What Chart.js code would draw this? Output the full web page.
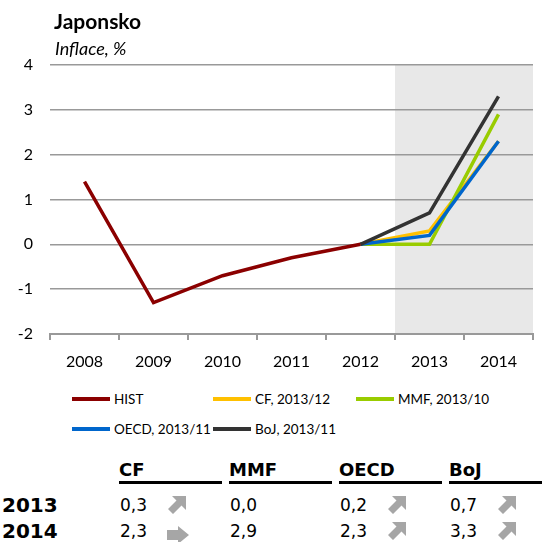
<!DOCTYPE html>
<html>
<head>
<meta charset="utf-8">
<script src="https://cdn.jsdelivr.net/npm/chart.js@4.4.1/dist/chart.umd.min.js"></script>
<style>
  html, body { margin: 0; padding: 0; background: #fff; }
  body { width: 542px; height: 542px; position: relative; overflow: hidden; font-family: Lato, sans-serif; color: #000; }
  #graf { position: absolute; left: 0; top: 0; }
  .titulek { position: absolute; left: 54px; top: 8px; font: bold 21px Lato; line-height: normal; }
  .podtitulek { position: absolute; left: 55px; top: 37px; font: italic 18px Lato; line-height: normal; }
  #legenda { position: absolute; left: 72px; top: 389px; display: grid; grid-template-columns: 141px 143px 150px; row-gap: 10px; font: 13.5px Lato; }
  .polozka { display: flex; align-items: center; height: 20px; white-space: nowrap; }
  .polozka i { display: inline-block; width: 38px; height: 3.5px; margin-right: 4px; }
  .hlava { position: absolute; top: 459px; width: 103px; font: bold 18px "DejaVu Sans"; line-height: normal; border-bottom: 3px solid #000; padding-bottom: 1px; }
  .rok { position: absolute; left: 2px; font: bold 20px "DejaVu Sans"; line-height: normal; }
  .hodnota { position: absolute; font: 17px "DejaVu Sans"; line-height: normal; }
  .sipka { position: absolute; }
</style>
</head>
<body>
<canvas id="graf" width="542" height="380"></canvas>
<div class="titulek">Japonsko</div>
<div class="podtitulek">Inflace, %</div>
<div id="legenda"></div>
<div id="tabulka"></div>
<script>
const roky = ["2008", "2009", "2010", "2011", "2012", "2013", "2014"];
const hist = [1.4, -1.3, -0.7, -0.3, 0.0, null, null];
const cf = [null, null, null, null, 0.0, 0.3, 2.3];
const mmf = [null, null, null, null, 0.0, 0.0, 2.9];
const oecd = [null, null, null, null, 0.0, 0.2, 2.3];
const boj = [null, null, null, null, 0.0, 0.7, 3.3];
const yMin = -2, yMax = 4;
const prognozaOd = "2013";

const tabNazvy = ["CF", "MMF", "OECD", "BoJ"];
const tabRoky = ["2013", "2014"];
const sipky2013 = ["up", "", "up", "up"];
const sipky2014 = ["right", "", "up", "up"];

// --- řady grafu ---
const rady = [
  { label: "HIST", data: hist, color: "#8B0000", order: 0 },
  { label: "CF, 2013/12", data: cf, color: "#FFC000", order: 4 },
  { label: "MMF, 2013/10", data: mmf, color: "#99CC00", order: 3 },
  { label: "OECD, 2013/11", data: oecd, color: "#0066CC", order: 2 },
  { label: "BoJ, 2013/11", data: boj, color: "#333333", order: 1 }
];

// šedé pozadí pro prognózu
const stinPlugin = {
  id: "stin",
  beforeDraw(chart) {
    const { ctx, chartArea, scales } = chart;
    const i = roky.indexOf(prognozaOd);
    const x0 = (scales.x.getPixelForValue(i - 1) + scales.x.getPixelForValue(i)) / 2;
    ctx.save();
    ctx.fillStyle = "#e8e8e8";
    ctx.fillRect(x0, chartArea.top, chartArea.right - x0, chartArea.bottom - chartArea.top);
    ctx.restore();
  }
};

Chart.defaults.font.family = "Lato";
Chart.defaults.font.size = 16;
Chart.defaults.color = "#000";

new Chart(document.getElementById("graf"), {
  type: "line",
  data: {
    labels: roky,
    datasets: rady.map(r => ({
      label: r.label,
      data: r.data,
      borderColor: r.color,
      backgroundColor: r.color,
      borderWidth: 3.5,
      pointRadius: 0,
      tension: 0,
      order: r.order
    }))
  },
  options: {
    responsive: false,
    animation: false,
    layout: { padding: { top: 65, left: 0, right: 9, bottom: 0 } },
    plugins: { legend: { display: false }, tooltip: { enabled: false } },
    scales: {
      x: {
        offset: true,
        grid: { offset: true, drawOnChartArea: false, tickLength: 6, color: "#999", lineWidth: 2 },
        border: { display: true, color: "#999", width: 2 },
        ticks: { padding: 12, maxRotation: 0 },
        afterFit: s => { s.height = 46; }
      },
      y: {
        min: yMin,
        max: yMax,
        ticks: { stepSize: 1, padding: 17 },
        grid: { drawTicks: false, color: "#999", lineWidth: 1.5 },
        border: { display: false },
        afterFit: s => { s.width = 50; }
      }
    }
  },
  plugins: [stinPlugin]
});

// --- legenda ---
const legenda = document.getElementById("legenda");
rady.forEach(r => {
  const el = document.createElement("div");
  el.className = "polozka";
  el.innerHTML = `<i style="background:${r.color}"></i>${r.label}`;
  legenda.appendChild(el);
});

// --- tabulka ---
const tab = document.getElementById("tabulka");
const sloupce = [120, 230, 340, 450];
const radkyTop = [494, 520];
const prognozy = [cf, mmf, oecd, boj];
const sipky = [sipky2013, sipky2014];

function sipkaSvg(typ) {
  if (typ === "right") {
    return `<svg width="22" height="18" viewBox="0 0 22 18"><polygon points="0,4 11,4 11,0 22,9 11,18 11,14 0,14" fill="#a6a6a6"/></svg>`;
  }
  return `<svg width="19" height="19" viewBox="0 0 19 19"><polygon points="19,0 19,14 14.5,9.5 6,18 1,13 9.5,4.5 5,0" fill="#a6a6a6"/></svg>`;
}

tabNazvy.forEach((n, j) => {
  const h = document.createElement("div");
  h.className = "hlava";
  h.style.left = (sloupce[j] - 1) + "px";
  h.textContent = n;
  tab.appendChild(h);
});

tabRoky.forEach((rok, i) => {
  const idx = roky.indexOf(rok);
  const r = document.createElement("div");
  r.className = "rok";
  r.style.top = (radkyTop[i] - 1) + "px";
  r.textContent = rok;
  tab.appendChild(r);
  prognozy.forEach((serie, j) => {
    const v = document.createElement("div");
    v.className = "hodnota";
    v.style.top = (radkyTop[i] + 1) + "px";
    v.style.left = sloupce[j] + "px";
    v.textContent = serie[idx].toFixed(1).replace(".", ",");
    tab.appendChild(v);
    const typ = sipky[i][j];
    if (typ) {
      const s = document.createElement("div");
      s.className = "sipka";
      s.style.left = (sloupce[j] + 47) + "px";
      s.style.top = (radkyTop[i] + (typ === "right" ? 6 : 2)) + "px";
      s.innerHTML = sipkaSvg(typ);
      tab.appendChild(s);
    }
  });
});
</script>
</body>
</html>
